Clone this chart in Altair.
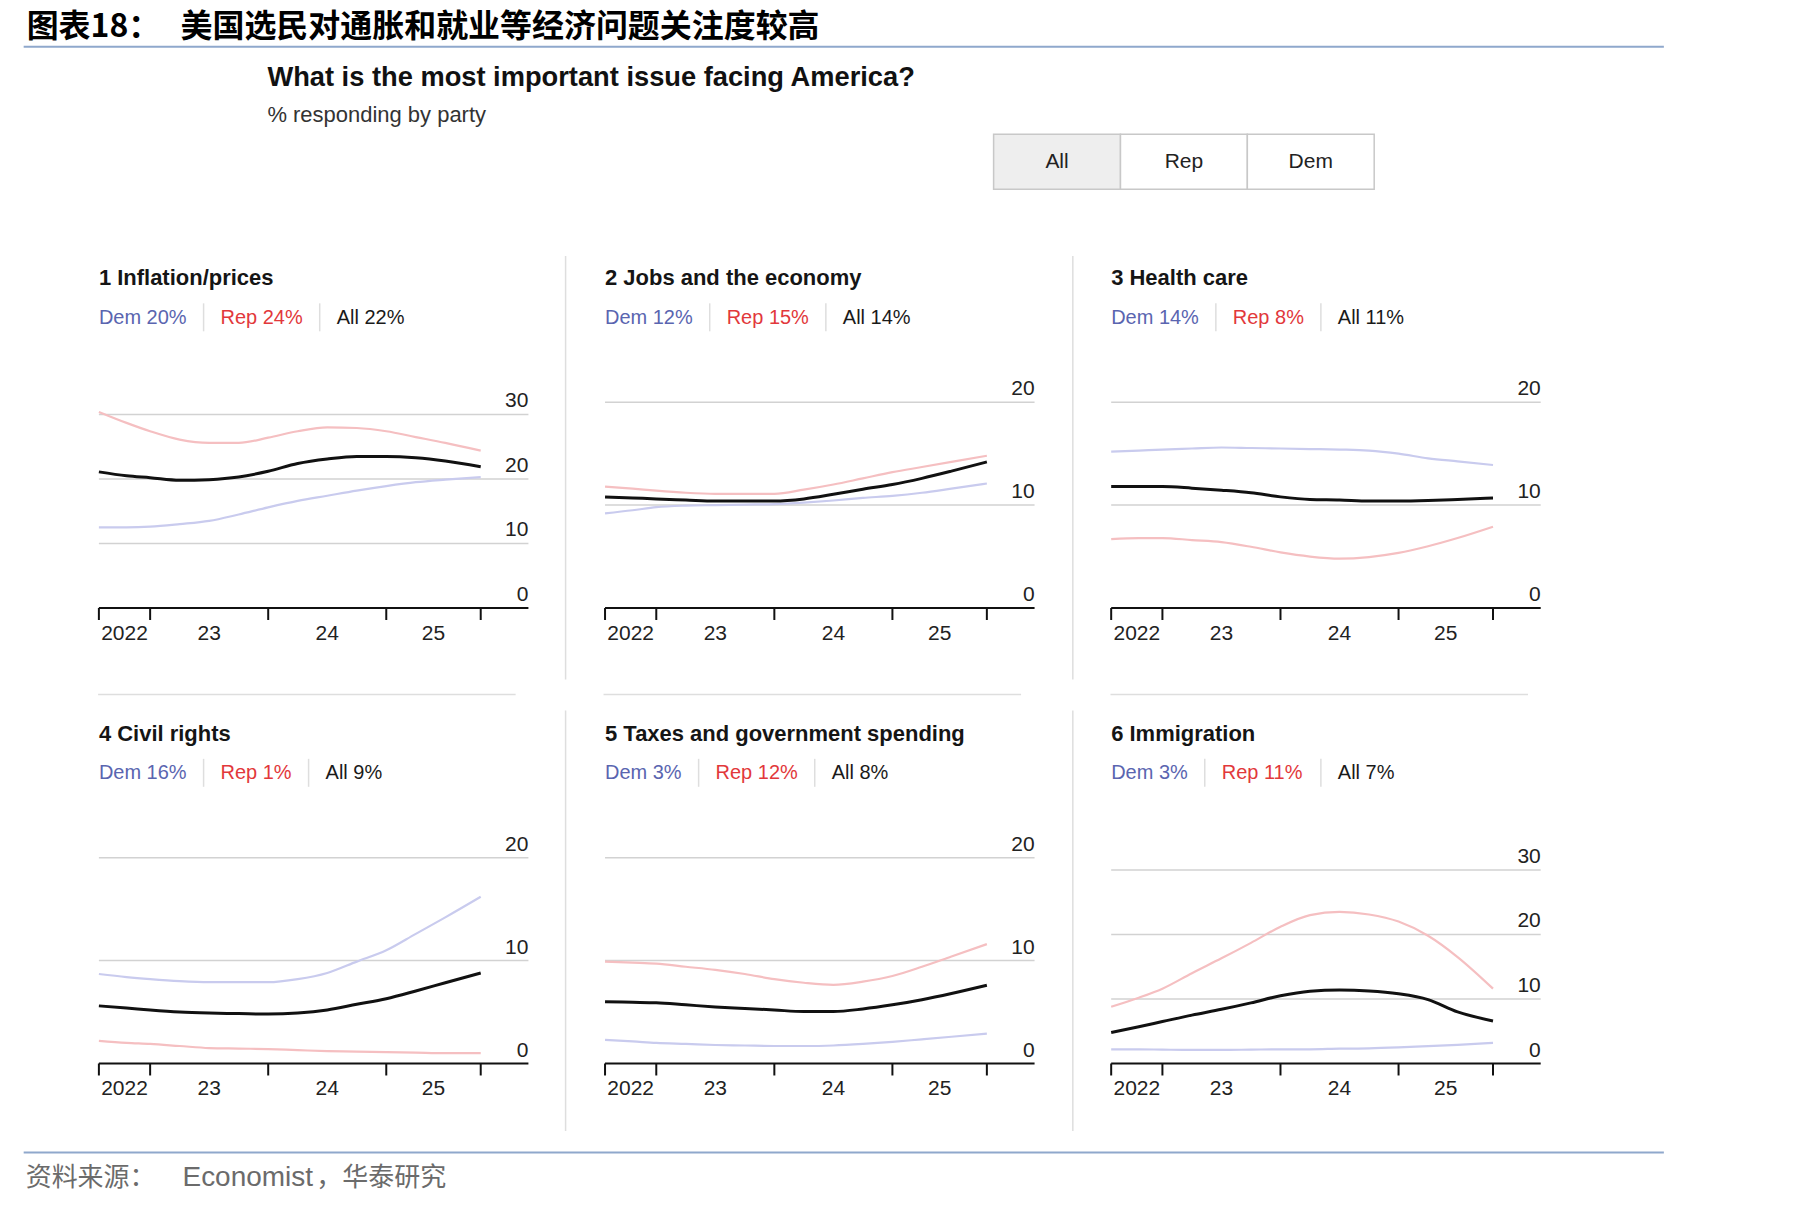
import altair as alt
import pandas as pd

# ---------------- data ----------------
X_YEARS = [2022.566, 2022.8, 2023.0, 2023.25, 2023.5, 2023.75, 2024.0,
           2024.25, 2024.5, 2024.75, 2025.0, 2025.25, 2025.5, 2025.80]
X_DOMAIN = [2022.566, 2026.204]
X_TICKS = [2022.566, 2023.0, 2024.0, 2025.0, 2025.80]
X_LABEL_POS = [2022.783, 2023.5, 2024.5, 2025.40]
X_LABELS = ["2022", "23", "24", "25"]

PANEL_TITLES = ["1 Inflation/prices", "2 Jobs and the economy", "3 Health care",
                "4 Civil rights", "5 Taxes and government spending", "6 Immigration"]
DEM_LATEST = [20, 12, 14, 16, 3, 3]
REP_LATEST = [24, 15, 8, 1, 12, 11]
ALL_LATEST = [22, 14, 11, 9, 8, 7]
Y_TICKS = [[0, 10, 20, 30], [0, 10, 20], [0, 10, 20], [0, 10, 20], [0, 10, 20], [0, 10, 20, 30]]
Y_MAX = [31.9, 20, 20, 20, 20, 31.9]

inflation_dem = [12.5, 12.5, 12.6, 13.0, 13.5, 14.5, 15.6, 16.6, 17.4, 18.2, 18.9, 19.5, 19.9, 20.3]
inflation_rep = [30.4, 28.7, 27.4, 26.1, 25.6, 25.6, 26.4, 27.4, 28.0, 27.9, 27.4, 26.5, 25.6, 24.4]
inflation_all = [21.1, 20.5, 20.2, 19.8, 19.9, 20.3, 21.2, 22.4, 23.1, 23.5, 23.5, 23.3, 22.8, 21.9]

jobs_dem = [9.2, 9.5, 9.8, 9.95, 10.0, 10.05, 10.1, 10.25, 10.45, 10.7, 10.9, 11.2, 11.6, 12.1]
jobs_rep = [11.8, 11.6, 11.4, 11.2, 11.1, 11.1, 11.1, 11.5, 12.0, 12.6, 13.2, 13.7, 14.2, 14.8]
jobs_all = [10.8, 10.7, 10.6, 10.5, 10.4, 10.4, 10.4, 10.6, 11.05, 11.55, 12.0, 12.6, 13.3, 14.2]

health_dem = [15.2, 15.3, 15.4, 15.5, 15.6, 15.55, 15.5, 15.45, 15.4, 15.3, 15.0, 14.55, 14.25, 13.9]
health_rep = [6.7, 6.8, 6.8, 6.6, 6.4, 5.95, 5.4, 5.0, 4.8, 4.95, 5.35, 6.0, 6.8, 7.9]
health_all = [11.8, 11.8, 11.8, 11.65, 11.45, 11.2, 10.8, 10.55, 10.5, 10.4, 10.4, 10.45, 10.55, 10.7]

civil_dem = [8.7, 8.4, 8.2, 8.0, 7.9, 7.9, 7.9, 8.2, 8.8, 9.9, 11.0, 12.6, 14.2, 16.2]
civil_rep = [2.2, 2.0, 1.9, 1.7, 1.5, 1.45, 1.4, 1.3, 1.2, 1.15, 1.1, 1.05, 1.0, 1.0]
civil_all = [5.6, 5.4, 5.2, 5.0, 4.9, 4.85, 4.8, 4.9, 5.2, 5.75, 6.3, 7.05, 7.85, 8.8]

taxes_dem = [2.3, 2.15, 2.0, 1.9, 1.8, 1.75, 1.7, 1.7, 1.75, 1.9, 2.1, 2.35, 2.6, 2.9]
taxes_rep = [9.9, 9.8, 9.7, 9.4, 9.1, 8.7, 8.2, 7.85, 7.65, 7.95, 8.5, 9.4, 10.4, 11.6]
taxes_all = [6.0, 5.95, 5.9, 5.7, 5.5, 5.35, 5.2, 5.05, 5.05, 5.3, 5.7, 6.2, 6.8, 7.6]

immig_dem = [2.2, 2.2, 2.15, 2.1, 2.1, 2.15, 2.2, 2.2, 2.3, 2.35, 2.5, 2.7, 2.9, 3.2]
immig_rep = [8.8, 10.2, 11.6, 14.0, 16.3, 18.7, 21.2, 23.0, 23.5, 23.1, 22.0, 19.8, 16.5, 11.6]
immig_all = [4.8, 5.7, 6.5, 7.5, 8.4, 9.4, 10.5, 11.2, 11.4, 11.25, 10.8, 9.9, 8.0, 6.6]

SERIES = [
    (inflation_dem, inflation_rep, inflation_all),
    (jobs_dem, jobs_rep, jobs_all),
    (health_dem, health_rep, health_all),
    (civil_dem, civil_rep, civil_all),
    (taxes_dem, taxes_rep, taxes_all),
    (immig_dem, immig_rep, immig_all),
]

HEADER_LABEL = "图表18："
HEADER_TEXT = "美国选民对通胀和就业等经济问题关注度较高"
TITLE = "What is the most important issue facing America?"
SUBTITLE = "% responding by party"
BUTTONS = ["All", "Rep", "Dem"]
SOURCE_LABEL = "资料来源："
SOURCE_EN = "Economist"
SOURCE_CN = "，华泰研究"

# ---------------- styling ----------------
W, H = 430, 206
OX, OY = 98.3, 401.3          # page position of the first panel's plot origin
COL_GAP, ROW_GAP = 76.7, 250
FONT = "Liberation Sans"
CJK = "Noto Sans CJK SC"
DEM_LINE = "#c9cbee"
REP_LINE = "#f5bfc1"
DEM_TXT = "#5a65b0"
REP_TXT = "#e2383b"
GRID = "#d2d2d2"
SEP = "#dedede"
BLUE = "#8fa8cc"

ARIAL = {' ': 0.278, '%': 0.889, 'A': 0.667, 'D': 0.722, 'R': 0.722,
         'e': 0.556, 'm': 0.833, 'p': 0.556, 'l': 0.222}


def text_w(s, size):
    return sum(ARIAL.get(c, 0.556) for c in s) * size


def one():
    return pd.DataFrame({"k": [0]})


def dtext(text, x, y, size, color="#111", weight="normal", font=FONT,
          align="left", baseline="alphabetic"):
    return alt.Chart(one()).mark_text(
        text=text, font=font, fontSize=size, fontWeight=weight, color=color,
        align=align, baseline=baseline
    ).encode(x=alt.value(x), y=alt.value(y))


def drule(x, x2, y, y2, color, width):
    return alt.Chart(one()).mark_rule(color=color, strokeWidth=width).encode(
        x=alt.value(x), x2=alt.value(x2), y=alt.value(y), y2=alt.value(y2))


def drect(x, x2, y, y2, fill, stroke=None, sw=0):
    kw = dict(fill=fill, strokeWidth=sw)
    if stroke:
        kw["stroke"] = stroke
    return alt.Chart(one()).mark_rect(**kw).encode(
        x=alt.value(x), x2=alt.value(x2), y=alt.value(y), y2=alt.value(y2))


def P(x):
    return x - OX


def Q(y):
    return y - OY


def make_panel(i, bottom=None, top=None):
    dem, rep, allv = SERIES[i]
    xs = alt.Scale(domain=X_DOMAIN, nice=False, zero=False)
    ys = alt.Scale(domain=[0, Y_MAX[i]], nice=False, zero=False)
    layers = list(bottom or [])

    grid_df = pd.DataFrame({"v": [v for v in Y_TICKS[i] if v > 0]})
    layers.append(alt.Chart(grid_df).mark_rule(color=GRID, strokeWidth=1.5).encode(
        y=alt.Y("v:Q", scale=ys, axis=None), x=alt.value(0), x2=alt.value(W)))

    lab_df = pd.DataFrame({"v": Y_TICKS[i], "t": [str(v) for v in Y_TICKS[i]]})
    layers.append(alt.Chart(lab_df).mark_text(
        align="right", baseline="alphabetic", dy=-7, font=FONT, fontSize=21, color="#222"
    ).encode(y=alt.Y("v:Q", scale=ys, axis=None), x=alt.value(W), text="t:N"))

    for vals, color, sw in [(dem, DEM_LINE, 2.2), (rep, REP_LINE, 2.2), (allv, "#111111", 3)]:
        df = pd.DataFrame({"year": X_YEARS, "value": vals})
        layers.append(alt.Chart(df).mark_line(
            color=color, strokeWidth=sw, interpolate="monotone").encode(
            x=alt.X("year:Q", scale=xs, axis=None),
            y=alt.Y("value:Q", scale=ys, axis=None)))

    # x axis
    layers.append(drule(0, W, H, H, "#111", 2))
    layers.append(alt.Chart(pd.DataFrame({"year": X_TICKS})).mark_rule(
        color="#111", strokeWidth=2).encode(
        x=alt.X("year:Q", scale=xs, axis=None), y=alt.value(H), y2=alt.value(H + 12)))
    layers.append(alt.Chart(pd.DataFrame({"year": X_LABEL_POS, "t": X_LABELS})).mark_text(
        align="center", baseline="alphabetic", font=FONT, fontSize=21, color="#222").encode(
        x=alt.X("year:Q", scale=xs, axis=None), y=alt.value(H + 32), text="t:N"))

    # title and legend
    layers.append(dtext(PANEL_TITLES[i], 0, -117, 22, "#151515", "bold"))
    s_dem = f"Dem {DEM_LATEST[i]}%"
    s_rep = f"Rep {REP_LATEST[i]}%"
    s_all = f"All {ALL_LATEST[i]}%"
    w1 = text_w(s_dem, 20)
    w2 = text_w(s_rep, 20)
    layers.append(dtext(s_dem, 0, -78.5, 20, DEM_TXT))
    layers.append(drule(w1 + 17, w1 + 17, -99, -71, SEP, 1.5))
    layers.append(dtext(s_rep, w1 + 34, -78.5, 20, REP_TXT))
    layers.append(drule(w1 + 34 + w2 + 17, w1 + 34 + w2 + 17, -99, -71, SEP, 1.5))
    layers.append(dtext(s_all, w1 + 34 + w2 + 34, -78.5, 20, "#1a1a1a"))

    layers += list(top or [])
    return alt.layer(*layers).properties(width=W, height=H)


# ---------------- page decorations (in panel-1 coordinates) ----------------
bottom = [drect(P(0), P(1819), Q(0), Q(1207), "white")]

top = [
    dtext(HEADER_LABEL, P(26), Q(26), 32, "#000", "bold", CJK, baseline="middle"),
    dtext(HEADER_TEXT, P(180), Q(26), 32, "#000", "bold", CJK, baseline="middle"),
    drule(P(23), P(1665), Q(45.5), Q(45.5), BLUE, 2),
    dtext(TITLE, P(267), Q(85), 27.3, "#111", "bold"),
    dtext(SUBTITLE, P(267), Q(121), 22, "#333"),
]
btn_x = [994, 1121, 1248, 1375]
for k, lab in enumerate(BUTTONS):
    top.append(drect(P(btn_x[k]), P(btn_x[k + 1]), Q(133), Q(188),
                     "#eeeeee" if k == 0 else "white", "#c8c8c8", 1.5))
    top.append(dtext(lab, P((btn_x[k] + btn_x[k + 1]) / 2), Q(161), 21, "#222",
                     align="center", baseline="middle"))

# panel separators
for sx in [565.5, 1073.3]:
    top.append(drule(P(sx), P(sx), Q(255), Q(679), SEP, 1.5))
    top.append(drule(P(sx), P(sx), Q(710), Q(1131), SEP, 1.5))
for hx in [97.5, 603.5, 1111]:
    top.append(drule(P(hx), P(hx + 418), Q(694), Q(694), SEP, 1.5))

# footer
top.append(drule(P(23), P(1665), Q(1152.5), Q(1152.5), BLUE, 2))
top.append(dtext(SOURCE_LABEL, P(25), Q(1178), 26, "#6b6b6b", font=CJK, baseline="middle"))
top.append(dtext(SOURCE_EN, P(182), Q(1178), 28, "#6b6b6b", baseline="middle"))
top.append(dtext(SOURCE_CN, P(316), Q(1178), 26, "#6b6b6b", font=CJK, baseline="middle"))

panels = [make_panel(0, bottom, top)] + [make_panel(i) for i in range(1, 6)]

chart = alt.concat(
    *panels, columns=3, spacing={"row": ROW_GAP, "column": COL_GAP}, bounds="flush"
).properties(
    padding=0, background="white"
).configure_view(stroke="transparent")

chart.save("out.html", embed_options={"renderer": "svg", "actions": False})
